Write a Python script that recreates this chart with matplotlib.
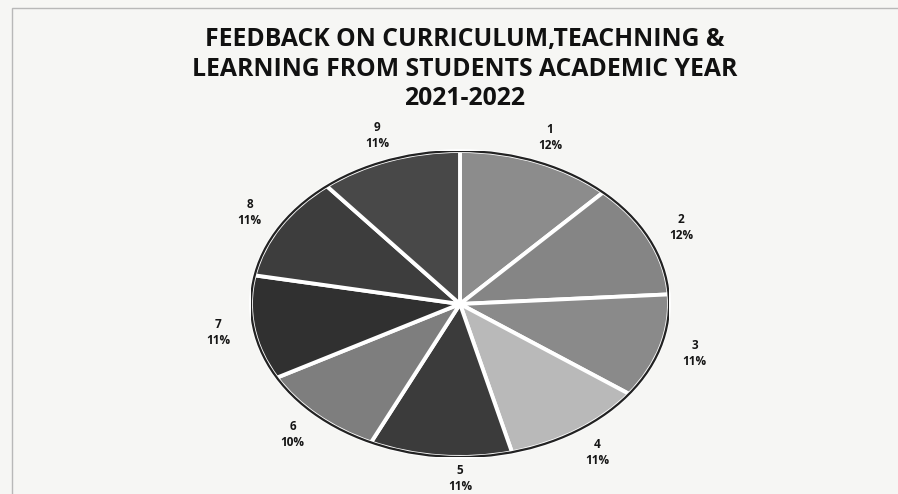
import matplotlib
matplotlib.use("Agg")
from matplotlib import pyplot as plt
from matplotlib.patches import Ellipse, Rectangle

# Chart data
categories = ["1", "2", "3", "4", "5", "6", "7", "8", "9"]
percents = [12, 12, 11, 11, 11, 10, 11, 11, 11]
shades = ["#8c8c8c", "#858585", "#8a8a8a", "#b9b9b9", "#3b3b3b",
          "#7e7e7e", "#303030", "#3d3d3d", "#484848"]
title = "FEEDBACK ON CURRICULUM,TEACHNING &\nLEARNING FROM STUDENTS ACADEMIC YEAR\n2021-2022"

W, H, dpi = 898, 494, 100
fig = plt.figure(figsize=(W / dpi, H / dpi), dpi=dpi)
fig.patch.set_facecolor("#f6f6f4")

# faint border left over from the scan
fig.add_artist(Rectangle((12 / W, -0.1), 1.1, (H - 8) / H + 0.1,
                         transform=fig.transFigure, fill=False,
                         edgecolor="#b8b8b8", linewidth=1.0))

fig.text(465 / W, 1 - 27 / H, title, ha="center", va="top",
         fontsize=17.8, fontweight="bold", family="Open Sans",
         color="#111111", linespacing=1.24)

# pie lives in an axes that covers exactly the ellipse bounding box
cx, cy, rx, ry = 460, 304, 209, 153
ax = fig.add_axes([(cx - rx) / W, (H - cy - ry) / H, 2 * rx / W, 2 * ry / H])
labels = [f"{c}\n{p}%" for c, p in zip(categories, percents)]
wedges, texts = ax.pie(percents, labels=labels, colors=shades,
                       startangle=90, counterclock=False,
                       labeldistance=1.17,
                       wedgeprops=dict(edgecolor="white", linewidth=2.8),
                       textprops=dict(fontsize=8.5, fontweight="bold",
                                      family="Open Sans", color="#151515"))
for t in texts:
    t.set_ha("center")
    t.set_va("center")
    t.set_linespacing(1.3)

# bottom label sits straight under the centre in the original, a bit higher
x5, y5 = texts[4].get_position()
texts[4].set_position((0, y5 + 0.025))

ax.add_patch(Ellipse((0, 0), 2.0, 2.0, fill=False, edgecolor="#222222",
                     linewidth=1.6, zorder=5))
ax.set_aspect("auto")
ax.set_xlim(-1, 1)
ax.set_ylim(-1, 1)
ax.axis("off")

fig.savefig("out.png", dpi=dpi, facecolor=fig.get_facecolor())
